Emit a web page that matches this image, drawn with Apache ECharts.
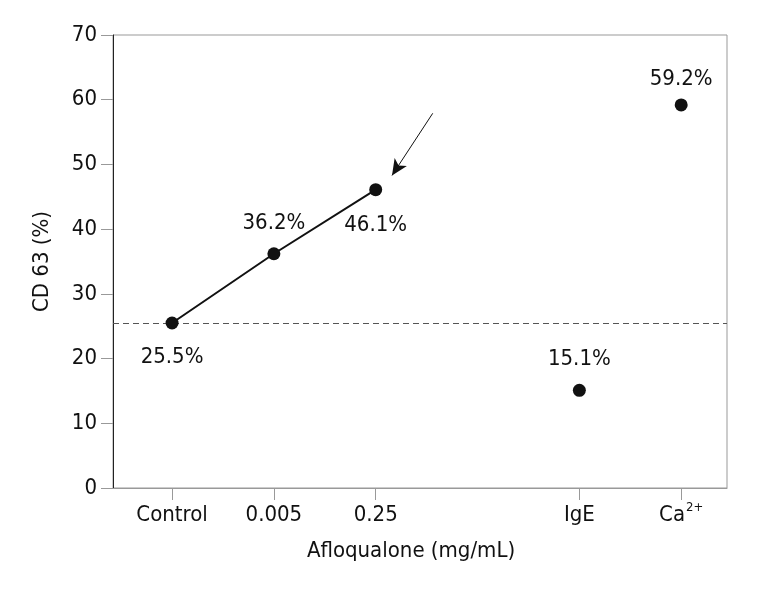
<!DOCTYPE html>
<html><head><meta charset="utf-8">
<script src="https://cdn.jsdelivr.net/npm/echarts@6/dist/echarts.min.js"></script>
<style>html,body{margin:0;padding:0;background:#fff}#c{width:769px;height:590px}</style>
</head><body><div id="c"></div>
<script>
// ---- data ----
const categories = ['Control', '0.005', '0.25', 'IgE', 'Ca2+'];
const categoryPositions = [0, 1, 2, 4, 5];
const lineValues = [25.5, 36.2, 46.1];        // Control, 0.005, 0.25 (connected)
const singleValues = [15.1, 59.2];            // IgE, Ca2+
const valueLabels = ['25.5%', '36.2%', '46.1%', '15.1%', '59.2%'];
const baselineValue = 25.5;
const yTicks = [0, 10, 20, 30, 40, 50, 60, 70];
const xAxisTitle = 'Afloqualone (mg/mL)';
const yAxisTitle = 'CD 63 (%)';

// ---- styling (not data) ----
const FONT = "'Liberation Sans Narrow', 'DejaVu Sans Condensed', sans-serif";
const FS = 22;
const labelPlacement = [['bottom', 17], ['top', 13], ['bottom', 18], ['top', 14], ['top', 8]];
const arrowFrom = [2.56, 57.9], arrowTo = [2.16, 48.3];

function item(i, x, y) {
  return {
    value: [x, y],
    label: {
      show: true, formatter: valueLabels[i], position: labelPlacement[i][0],
      distance: labelPlacement[i][1], fontSize: FS, fontFamily: FONT, color: '#111'
    }
  };
}
const lineData = lineValues.map((v, i) => item(i, categoryPositions[i], v));
const singleData = singleValues.map((v, j) => item(j + 3, categoryPositions[j + 3], v));

const chart = echarts.init(document.getElementById('c'), null, {renderer: 'canvas'});
chart.setOption({
  animation: false,
  backgroundColor: '#fff',
  grid: {left: 113, right: 42, top: 35, bottom: 102, show: true, borderColor: '#999', borderWidth: 1},
  xAxis: {
    type: 'value', min: -0.58, max: 5.45,
    name: xAxisTitle, nameLocation: 'middle', nameGap: 52,
    nameTextStyle: {fontSize: FS, fontFamily: FONT, color: '#111', padding: [0, 18, 0, 0]},
    axisLine: {show: true, onZero: false, lineStyle: {color: '#999', width: 1}},
    axisTick: {show: true, length: 12, lineStyle: {color: '#999'}, customValues: categoryPositions},
    axisLabel: {
      customValues: categoryPositions, margin: 12, fontSize: FS, fontFamily: FONT, color: '#111',
      formatter: function (v) {
        const i = categoryPositions.indexOf(Math.round(v));
        if (i < 0) return '';
        const c = categories[i];
        if (c === 'Ca2+') return '{n|Ca}{s|2+}';
        return '{n|' + c + '}';
      },
      rich: {
        n: {fontSize: FS, fontFamily: FONT, color: '#111', lineHeight: 26, verticalAlign: 'bottom'},
        s: {fontSize: 13, fontFamily: FONT, color: '#111', verticalAlign: 'bottom', padding: [0, 0, 12, 1]}
      }
    },
    splitLine: {show: false}
  },
  yAxis: {
    type: 'value', min: yTicks[0], max: yTicks[yTicks.length - 1], interval: 10,
    name: yAxisTitle, nameLocation: 'middle', nameGap: 60, nameRotate: 90,
    nameTextStyle: {fontSize: FS, fontFamily: FONT, color: '#111'},
    axisLine: {show: true, onZero: false, lineStyle: {color: '#222', width: 1}},
    axisTick: {show: true, length: 12, lineStyle: {color: '#999'}},
    axisLabel: {margin: 16, fontSize: FS, fontFamily: FONT, color: '#111'},
    splitLine: {show: false}
  },
  series: [
    {
      type: 'line', data: lineData, symbol: 'circle', symbolSize: 13,
      itemStyle: {color: '#111', opacity: 1}, lineStyle: {color: '#111', width: 2}, z: 5,
      markLine: {
        silent: true, symbol: ['none', 'none'], label: {show: false}, animation: false,
        data: [
          {yAxis: baselineValue, lineStyle: {type: [6, 4], color: '#555', width: 1}},
          [
            {coord: arrowFrom, symbol: 'none', lineStyle: {type: 'solid', color: '#111', width: 1}},
            {coord: arrowTo, symbol: 'arrow', symbolSize: [11, 16]}
          ]
        ]
      }
    },
    {
      type: 'scatter', data: singleData, symbol: 'circle', symbolSize: 13,
      itemStyle: {color: '#111', opacity: 1}, z: 5
    }
  ]
});
</script></body></html>
